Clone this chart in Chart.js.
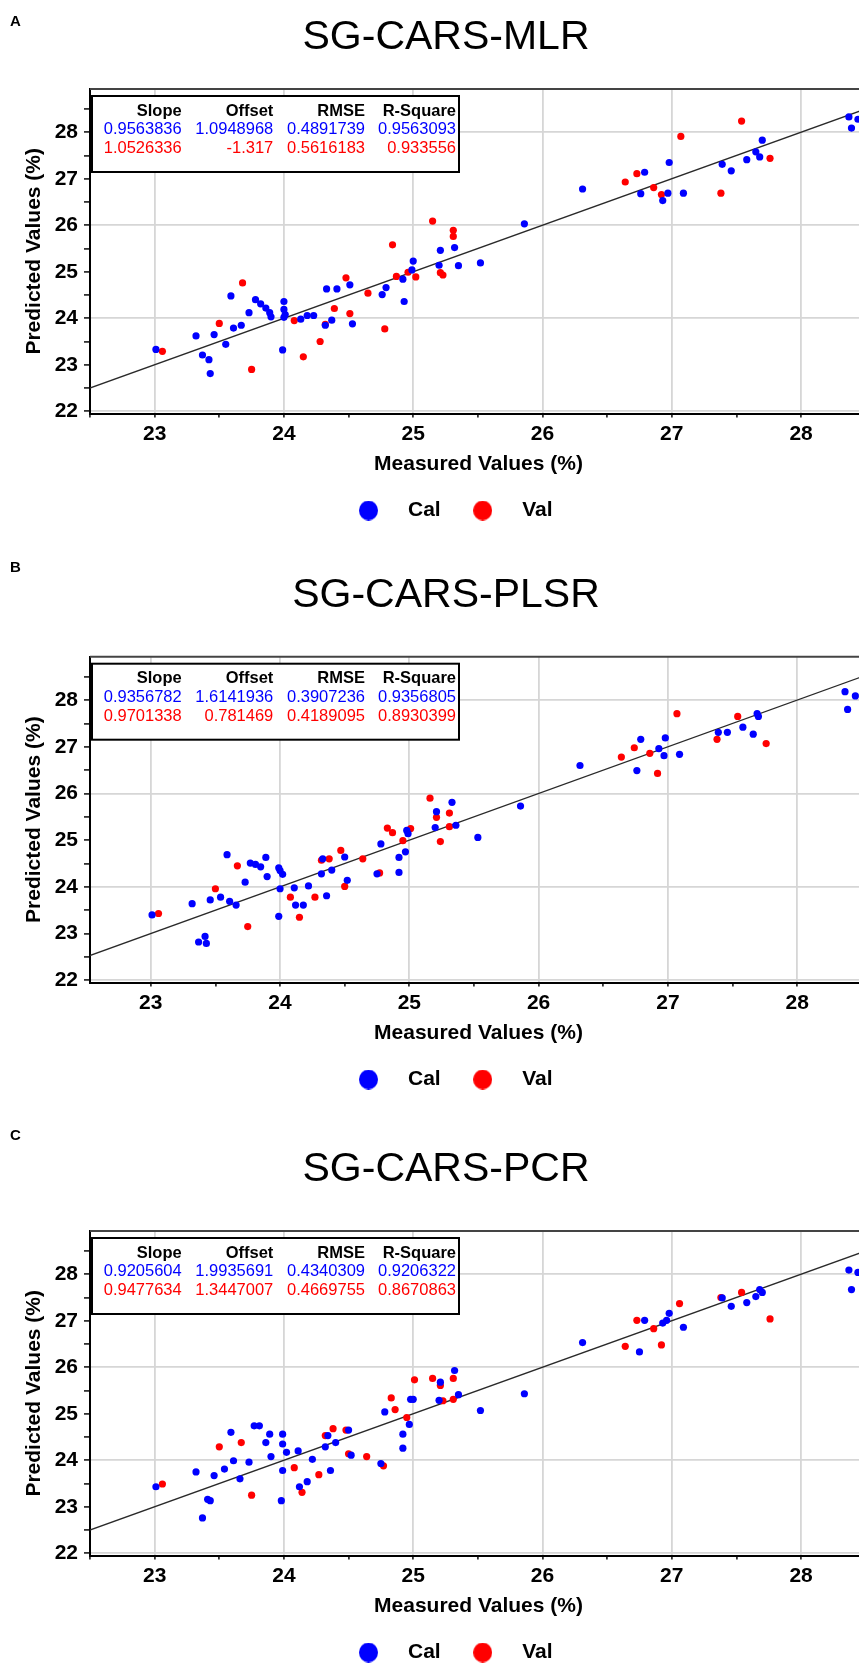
<!DOCTYPE html>
<html>
<head>
<meta charset="utf-8">
<script src="https://cdn.jsdelivr.net/npm/chart.js@4.4.1/dist/chart.umd.min.js"></script>
<style>
  html, body { margin: 0; padding: 0; width: 859px; height: 1665px; overflow: hidden; background: #ffffff; }
  canvas { position: absolute; left: 0; }
  .letter { position: absolute; left: 10px; font: bold 15px 'Liberation Sans', Arial, sans-serif; line-height: 18px; color: #000; z-index: 2; }
</style>
</head>
<body>
<div class="letter" style="top:12px">A</div>
<div class="letter" style="top:558px">B</div>
<div class="letter" style="top:1126px">C</div>
<canvas id="chartA" width="892" height="531" style="top:0px;width:892px;height:531px"></canvas>
<canvas id="chartB" width="892" height="544" style="top:556px;width:892px;height:544px"></canvas>
<canvas id="chartC" width="892" height="563" style="top:1110px;width:892px;height:563px"></canvas>
<script>
// ---------- tick values ----------
const xTickValues = [22.5, 23, 23.5, 24, 24.5, 25, 25.5, 26, 26.5, 27, 27.5, 28, 28.5];
const yTickValues = [22, 22.5, 23, 23.5, 24, 24.5, 25, 25.5, 26, 26.5, 27, 27.5, 28, 28.5];

// ---------- 1:1 reference line ----------
const refLineX = [22, 29];
const refLineY = [22, 29];

// ---------- stats table ----------
const statHeaders = ['Slope', 'Offset', 'RMSE', 'R-Square'];
const mlrCalStats = ['0.9563836', '1.0948968', '0.4891739', '0.9563093'];
const mlrValStats = ['1.0526336', '-1.317', '0.5616183', '0.933556'];
const plsrCalStats = ['0.9356782', '1.6141936', '0.3907236', '0.9356805'];
const plsrValStats = ['0.9701338', '0.781469', '0.4189095', '0.8930399'];
const pcrCalStats = ['0.9205604', '1.9935691', '0.4340309', '0.9206322'];
const pcrValStats = ['0.9477634', '1.3447007', '0.4669755', '0.8670863'];

// ---------- Panel A: SG-CARS-MLR ----------
const mlrCalMeasured = [23.01, 23.32, 23.37, 23.42, 23.43, 23.46, 23.55, 23.59, 23.61, 23.67, 23.73, 23.78, 23.82, 23.86, 23.89, 23.90, 23.99, 24.00, 24.00, 24.01, 24.00, 24.13, 24.18, 24.23, 24.33, 24.32, 24.37, 24.41, 24.51, 24.53, 24.76, 24.79, 24.93, 24.92, 24.99, 25.00, 25.21, 25.32, 25.20, 25.35, 25.52, 25.86, 26.31, 26.79, 26.76, 26.93, 26.97, 26.98, 27.09, 27.39, 27.46, 27.58, 27.65, 27.68, 27.70, 28.37, 28.39, 28.44];
const mlrCalPredicted = [23.33, 23.62, 23.21, 23.11, 22.81, 23.65, 23.44, 24.48, 23.79, 23.85, 24.12, 24.40, 24.31, 24.22, 24.12, 24.03, 23.32, 24.36, 24.19, 24.08, 24.02, 23.98, 24.06, 24.06, 24.63, 23.85, 23.96, 24.63, 24.72, 23.88, 24.51, 24.66, 24.36, 24.84, 25.04, 25.23, 25.46, 25.52, 25.14, 25.13, 25.19, 26.03, 26.78, 27.14, 26.68, 26.53, 26.69, 27.35, 26.69, 27.31, 27.17, 27.41, 27.58, 27.47, 27.83, 28.33, 28.09, 28.28];
const mlrValMeasured = [23.06, 23.50, 23.68, 23.75, 24.08, 24.15, 24.28, 24.32, 24.39, 24.48, 24.51, 24.65, 24.78, 24.84, 24.87, 24.96, 25.02, 25.15, 25.31, 25.31, 25.21, 25.23, 26.64, 26.73, 26.86, 26.92, 27.07, 27.38, 27.54, 27.76];
const mlrValPredicted = [23.29, 23.89, 24.76, 22.90, 23.95, 23.17, 23.50, 23.87, 24.21, 24.87, 24.10, 24.54, 23.77, 25.58, 24.90, 24.99, 24.89, 26.09, 25.89, 25.76, 24.98, 24.93, 26.93, 27.11, 26.81, 26.66, 27.91, 26.69, 28.24, 27.44];

// ---------- Panel B: SG-CARS-PLSR ----------
const plsrCalMeasured = [23.01, 23.32, 23.37, 23.42, 23.43, 23.46, 23.54, 23.59, 23.61, 23.66, 23.73, 23.77, 23.81, 23.85, 23.89, 23.90, 23.99, 23.99, 24.00, 24.02, 24.00, 24.11, 24.12, 24.18, 24.22, 24.32, 24.33, 24.36, 24.40, 24.50, 24.52, 24.75, 24.78, 24.92, 24.92, 24.97, 24.98, 24.99, 25.21, 25.20, 25.33, 25.36, 25.53, 25.86, 26.32, 26.79, 26.76, 26.93, 26.97, 26.98, 27.09, 27.39, 27.46, 27.58, 27.66, 27.69, 27.70, 28.37, 28.39, 28.45];
const plsrCalPredicted = [23.40, 23.64, 22.82, 22.94, 22.79, 23.72, 23.78, 24.69, 23.69, 23.61, 24.10, 24.51, 24.48, 24.43, 24.63, 24.22, 23.37, 24.41, 24.35, 24.27, 23.96, 23.98, 23.61, 23.61, 24.02, 24.28, 24.60, 23.81, 24.36, 24.64, 24.14, 24.28, 24.92, 24.63, 24.31, 24.75, 25.21, 25.14, 25.61, 25.27, 25.81, 25.32, 25.06, 25.73, 26.60, 27.16, 26.49, 26.96, 26.81, 27.19, 26.84, 27.31, 27.31, 27.42, 27.27, 27.71, 27.65, 28.18, 27.80, 28.09];
const plsrValMeasured = [23.06, 23.50, 23.67, 23.75, 24.08, 24.15, 24.27, 24.32, 24.38, 24.47, 24.50, 24.64, 24.77, 24.83, 24.87, 24.95, 25.01, 25.16, 25.21, 25.24, 25.31, 25.31, 26.64, 26.74, 26.86, 26.92, 27.07, 27.38, 27.54, 27.76];
const plsrValPredicted = [23.43, 23.96, 24.45, 23.15, 23.78, 23.35, 23.78, 24.57, 24.60, 24.78, 24.01, 24.60, 24.30, 25.26, 25.16, 24.99, 25.25, 25.90, 25.49, 24.97, 25.58, 25.29, 26.78, 26.98, 26.86, 26.43, 27.71, 27.16, 27.65, 27.07];

// ---------- Panel C: SG-CARS-PCR ----------
const pcrCalMeasured = [23.01, 23.32, 23.37, 23.41, 23.43, 23.46, 23.54, 23.59, 23.61, 23.66, 23.73, 23.77, 23.81, 23.86, 23.89, 23.90, 23.98, 23.99, 23.99, 23.99, 24.02, 24.11, 24.12, 24.18, 24.22, 24.32, 24.34, 24.36, 24.40, 24.50, 24.52, 24.75, 24.78, 24.92, 24.92, 24.97, 24.98, 25.00, 25.21, 25.32, 25.20, 25.35, 25.52, 25.86, 26.31, 26.79, 26.75, 26.93, 26.96, 26.98, 27.09, 27.39, 27.46, 27.58, 27.65, 27.68, 27.70, 28.37, 28.39, 28.44];
const pcrCalPredicted = [23.43, 23.75, 22.76, 23.16, 23.13, 23.67, 23.81, 24.60, 23.99, 23.60, 23.96, 24.74, 24.74, 24.38, 24.56, 24.08, 23.13, 24.56, 24.35, 23.78, 24.17, 24.20, 23.43, 23.54, 24.02, 24.29, 24.53, 23.78, 24.38, 24.65, 24.11, 23.93, 25.04, 24.26, 24.56, 24.77, 25.31, 25.31, 25.68, 25.93, 25.29, 25.41, 25.07, 25.43, 26.53, 27.01, 26.33, 26.95, 27.01, 27.16, 26.86, 27.49, 27.31, 27.39, 27.52, 27.67, 27.61, 28.09, 27.67, 28.04];
const pcrValMeasured = [23.06, 23.50, 23.67, 23.75, 24.08, 24.14, 24.27, 24.32, 24.38, 24.48, 24.50, 24.64, 24.77, 24.83, 24.86, 24.95, 25.01, 25.15, 25.21, 25.31, 25.23, 25.31, 26.64, 26.73, 26.86, 26.92, 27.06, 27.38, 27.54, 27.76];
const pcrValPredicted = [23.49, 24.29, 24.38, 23.25, 23.84, 23.31, 23.69, 24.53, 24.68, 24.65, 24.14, 24.08, 23.88, 25.34, 25.09, 24.92, 25.73, 25.76, 25.61, 25.76, 25.28, 25.31, 26.45, 27.01, 26.83, 26.48, 27.37, 27.50, 27.61, 27.04];

// ---------- styling ----------
const BLUE = '#0000ff';
const RED = '#ff0000';
const GRID = '#d6d6d6';
const FONT = "'Liberation Sans', Arial, sans-serif";
Chart.defaults.font.family = FONT;
Chart.defaults.color = '#000';

function zip(xs, ys) { return xs.map((x, i) => ({ x: x, y: ys[i] })); }

function dotImage(color) {
  const c = document.createElement('canvas');
  c.width = 19; c.height = 20;
  const g = c.getContext('2d');
  g.fillStyle = color;
  g.beginPath();
  g.ellipse(9.5, 10, 9.5, 10, 0, 0, Math.PI * 2);
  g.fill();
  return c;
}
const legendDots = [dotImage(BLUE), dotImage(RED)];

const statsBoxPlugin = {
  id: 'statsBox',
  beforeDatasetsDraw(chart, args, opts) {
    const { ctx, chartArea } = chart;
    const x0 = chartArea.left + 2, y0 = chartArea.top + 7, w = 367, h = 76;
    ctx.save();
    ctx.fillStyle = '#ffffff';
    ctx.fillRect(x0, y0, w, h);
    ctx.strokeStyle = '#000000';
    ctx.lineWidth = 2;
    ctx.strokeRect(x0, y0, w, h);
    const cols = [89.7, 181.3, 273, 364];
    ctx.textAlign = 'right';
    ctx.textBaseline = 'alphabetic';
    const rows = [
      { vals: opts.headers, color: '#000000', font: 'bold 16.5px ' + FONT, dy: 19.5 },
      { vals: opts.cal, color: BLUE, font: '16.5px ' + FONT, dy: 38 },
      { vals: opts.val, color: RED, font: '16.5px ' + FONT, dy: 57 }
    ];
    rows.forEach(r => {
      ctx.fillStyle = r.color;
      ctx.font = r.font;
      r.vals.forEach((v, i) => ctx.fillText(v, x0 + cols[i], y0 + r.dy));
    });
    ctx.restore();
  }
};

const topFramePlugin = {
  id: 'topFrame',
  beforeDatasetsDraw(chart) {
    const { ctx, chartArea } = chart;
    ctx.save();
    ctx.strokeStyle = '#444444';
    ctx.lineWidth = 2;
    ctx.beginPath();
    ctx.moveTo(chartArea.left, chartArea.top);
    ctx.lineTo(chart.width, chartArea.top);
    ctx.stroke();
    ctx.restore();
  }
};

function buildPanel(id, p) {
  return new Chart(document.getElementById(id), {
    type: 'scatter',
    data: {
      datasets: [
        { label: 'Cal', data: zip(p.calX, p.calY), backgroundColor: BLUE, borderWidth: 0, pointRadius: 3.6, pointHoverRadius: 3.6 },
        { label: 'Val', data: zip(p.valX, p.valY), backgroundColor: RED, borderWidth: 0, pointRadius: 3.6, pointHoverRadius: 3.6 },
        { label: '1:1', data: zip(refLineX, refLineY), showLine: true, borderColor: '#2a2a2a', borderWidth: 1.3, pointRadius: 0, pointHoverRadius: 0, fill: false }
      ]
    },
    options: {
      responsive: false,
      animation: false,
      events: [],
      layout: { padding: 0 },
      plugins: {
        title: {
          display: true, text: p.title, color: '#000',
          font: { size: 41, weight: 'normal', family: FONT, lineHeight: 1.2 },
          padding: { top: p.tTop, bottom: p.tBottom }
        },
        legend: {
          display: true, position: 'bottom',
          labels: {
            usePointStyle: true, pointStyleWidth: 58, padding: 13, color: '#000',
            font: { size: 21, weight: 'bold', family: FONT },
            generateLabels: () => ['Cal', 'Val'].map((t, i) => ({
              text: t, fillStyle: i === 0 ? BLUE : RED, strokeStyle: i === 0 ? BLUE : RED,
              lineWidth: 0, pointStyle: legendDots[i], hidden: false, datasetIndex: i, fontColor: '#000'
            }))
          }
        },
        tooltip: { enabled: false },
        statsBox: { headers: statHeaders, cal: p.calStats, val: p.valStats }
      },
      scales: {
        x: {
          type: 'linear', min: p.xMin, max: p.xMax,
          afterBuildTicks: s => { s.ticks = xTickValues.filter(v => v >= s.min && v <= s.max).map(v => ({ value: v })); },
          ticks: {
            autoSkip: false, maxRotation: 0, padding: 4, color: '#000',
            font: { size: 21, weight: 'bold', family: FONT },
            callback: v => Number.isInteger(v) ? String(v) : ''
          },
          grid: {
            color: c => (c.tick && Number.isInteger(c.tick.value)) ? GRID : 'rgba(0,0,0,0)',
            lineWidth: 1.8, tickColor: '#333', tickLength: 4, drawTicks: true
          },
          border: { display: true, color: '#000', width: 2 },
          title: {
            display: true, text: 'Measured Values (%)', color: '#000',
            font: { size: 21, weight: 'bold', family: FONT }, padding: { top: 1, bottom: 10 }
          }
        },
        y: {
          type: 'linear', min: 21.95, max: 28.93,
          afterBuildTicks: s => { s.ticks = yTickValues.filter(v => v >= s.min && v <= s.max).map(v => ({ value: v })); },
          afterFit: s => { s.width = 90; },
          ticks: {
            autoSkip: false, padding: 6, color: '#000',
            font: { size: 21, weight: 'bold', family: FONT },
            callback: v => Number.isInteger(v) ? String(v) : ''
          },
          grid: {
            color: c => (c.tick && c.tick.value % 2 === 0) ? GRID : 'rgba(0,0,0,0)',
            lineWidth: 1.8, tickColor: '#333', tickLength: 6, drawTicks: true
          },
          border: { display: true, color: '#000', width: 2 },
          title: {
            display: true, text: 'Predicted Values (%)', color: '#000',
            font: { size: 21, weight: 'bold', family: FONT }, padding: { top: 22, bottom: 0 }
          }
        },
        yR: {
          type: 'linear', position: 'right', display: true,
          ticks: { display: false }, grid: { display: false, drawTicks: false }, border: { display: false },
          afterFit: s => { s.width = 25; }
        }
      }
    },
    plugins: [topFramePlugin, statsBoxPlugin]
  });
}

buildPanel('chartA', {
  title: 'SG-CARS-MLR', tTop: 12.9, tBottom: 26.9, xMin: 22.5, xMax: 28.51,
  calX: mlrCalMeasured, calY: mlrCalPredicted, valX: mlrValMeasured, valY: mlrValPredicted,
  calStats: mlrCalStats, valStats: mlrValStats
});
buildPanel('chartB', {
  title: 'SG-CARS-PLSR', tTop: 15.4, tBottom: 36.1, xMin: 22.53, xMax: 28.54,
  calX: plsrCalMeasured, calY: plsrCalPredicted, valX: plsrValMeasured, valY: plsrValPredicted,
  calStats: plsrCalStats, valStats: plsrValStats
});
buildPanel('chartC', {
  title: 'SG-CARS-PCR', tTop: 35.4, tBottom: 36.4, xMin: 22.5, xMax: 28.51,
  calX: pcrCalMeasured, calY: pcrCalPredicted, valX: pcrValMeasured, valY: pcrValPredicted,
  calStats: pcrCalStats, valStats: pcrValStats
});
</script>
</body>
</html>
